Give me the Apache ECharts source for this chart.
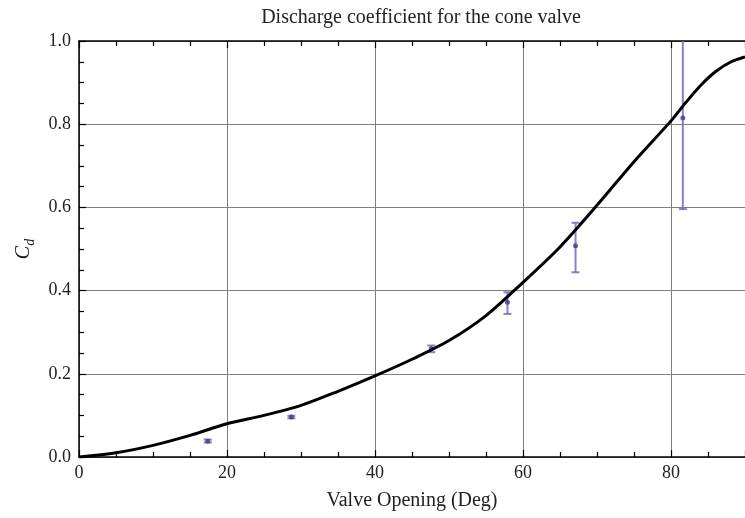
<!DOCTYPE html>
<html>
<head>
<meta charset="utf-8">
<script src="https://cdn.jsdelivr.net/npm/echarts@6/dist/echarts.min.js"></script>
<style>
html, body { margin: 0; padding: 0; background: #fff; }
#chart { width: 745px; height: 518px; }
</style>
</head>
<body>
<div id="chart"></div>
<script>
// fitted curve (valve opening in deg, Cd)
var curveX = [0, 5, 10, 15, 20, 25, 30, 35, 40, 45, 50, 55, 60, 65, 70, 75, 80, 82, 84, 86, 88, 90];
var curveY = [0, 0.01, 0.028, 0.052, 0.08, 0.1, 0.124, 0.158, 0.195, 0.235, 0.28, 0.34, 0.42, 0.505, 0.605, 0.71, 0.808, 0.852, 0.893, 0.926, 0.949, 0.962];

// measured points with error bars
var ptX = [17.4, 28.7, 47.6, 57.9, 67.1, 81.6];
var ptY = [0.038, 0.096, 0.26, 0.372, 0.508, 0.815];
var errLow = [0.035, 0.093, 0.252, 0.344, 0.444, 0.596];
var errHigh = [0.042, 0.099, 0.268, 0.396, 0.563, 1.04];

var serif = '"Liberation Serif", "Times New Roman", serif';
var textColor = '#222';

var chart = echarts.init(document.getElementById('chart'));

var curveData = [];
for (var i = 0; i < curveX.length; i++) {
    curveData.push([curveX[i], curveY[i]]);
}
var pointData = [];
var errData = [];
for (var j = 0; j < ptX.length; j++) {
    pointData.push([ptX[j], ptY[j]]);
    errData.push([ptX[j], errLow[j], errHigh[j]]);
}

function renderErr(params, api) {
    var x = api.value(0);
    var lo = api.coord([x, api.value(1)]);
    var hi = api.coord([x, api.value(2)]);
    var w = 4;
    var style = { stroke: 'rgba(110,110,190,0.85)', lineWidth: 2 };
    return {
        type: 'group',
        children: [
            { type: 'line', shape: { x1: lo[0], y1: lo[1], x2: hi[0], y2: hi[1] }, style: style },
            { type: 'line', shape: { x1: lo[0] - w, y1: lo[1], x2: lo[0] + w, y2: lo[1] }, style: style },
            { type: 'line', shape: { x1: hi[0] - w, y1: hi[1], x2: hi[0] + w, y2: hi[1] }, style: style }
        ]
    };
}

var frameLine = { show: true, onZero: false, lineStyle: { color: '#000', width: 1.5 } };

var option = {
    backgroundColor: '#fff',
    animation: false,
    title: {
        text: 'Discharge coefficient for the cone valve',
        left: 416,
        top: 3,
        textAlign: 'center',
        textStyle: { fontFamily: serif, fontSize: 20, fontWeight: 'normal', color: textColor }
    },
    grid: { left: 79, right: -6, top: 41, bottom: 61 },
    xAxis: [{
        type: 'value',
        position: 'bottom',
        min: 0,
        max: 90,
        interval: 20,
        name: 'Valve Opening (Deg)',
        nameLocation: 'middle',
        nameGap: 34,
        nameTextStyle: { fontFamily: serif, fontSize: 20, color: textColor },
        axisLine: frameLine,
        axisTick: { show: true, inside: true, length: 7, lineStyle: { color: '#000', width: 1.2 } },
        minorTick: { show: true, splitNumber: 4, length: 5, lineStyle: { color: '#000', width: 1.2 } },
        axisLabel: { fontFamily: serif, fontSize: 18, color: textColor, margin: 7, showMaxLabel: false },
        splitLine: { show: true, lineStyle: { color: '#808080', width: 1 } }
    }, {
        type: 'value',
        position: 'top',
        min: 0,
        max: 90,
        interval: 20,
        axisLine: frameLine,
        axisTick: { show: true, inside: true, length: 7, lineStyle: { color: '#000', width: 1.2 } },
        minorTick: { show: true, splitNumber: 4, length: 5, lineStyle: { color: '#000', width: 1.2 } },
        axisLabel: { show: false },
        splitLine: { show: false }
    }],
    yAxis: {
        type: 'value',
        min: 0,
        max: 1,
        interval: 0.2,
        name: '{c|C}{d|d}',
        nameLocation: 'middle',
        nameRotate: 90,
        nameGap: 45,
        nameTextStyle: {
            rich: {
                c: { fontFamily: serif, fontStyle: 'italic', fontSize: 20, color: textColor, lineHeight: 22, verticalAlign: 'bottom' },
                d: { fontFamily: serif, fontStyle: 'italic', fontSize: 14, color: textColor, lineHeight: 22, verticalAlign: 'bottom', padding: [0, 0, -4, 0] }
            }
        },
        axisLine: frameLine,
        axisTick: { show: true, inside: true, length: 7, lineStyle: { color: '#000', width: 1.2 } },
        minorTick: { show: true, splitNumber: 4, length: 5, lineStyle: { color: '#000', width: 1.2 } },
        axisLabel: {
            fontFamily: serif, fontSize: 18, color: textColor, margin: 8,
            formatter: function (v) { return v.toFixed(1); }
        },
        splitLine: { show: true, lineStyle: { color: '#808080', width: 1 } }
    },
    series: [{
        type: 'custom',
        name: 'error',
        renderItem: renderErr,
        data: errData,
        encode: { x: 0, y: [1, 2] },
        clip: true,
        z: 2
    }, {
        type: 'scatter',
        name: 'measured',
        data: pointData,
        symbol: 'circle',
        symbolSize: 5,
        itemStyle: { color: '#3c3c8c' },
        z: 3
    }, {
        type: 'line',
        name: 'fit',
        data: curveData,
        smooth: 0.3,
        showSymbol: false,
        lineStyle: { color: '#000', width: 3 },
        z: 4
    }]
};
chart.setOption(option);
</script>
</body>
</html>
